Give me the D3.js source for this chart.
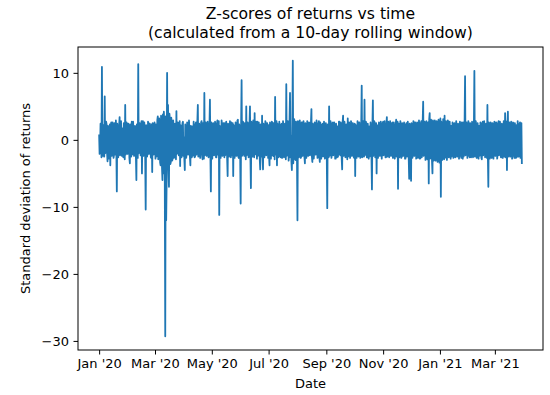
<!DOCTYPE html>
<html>
<head>
<meta charset="UTF-8">
<title>Z-scores of returns</title>
<style>
  body { margin: 0; background: #fff; }
  svg { display: block; font-family: "DejaVu Sans", sans-serif; }
</style>
</head>
<body>
<svg width="550" height="395"></svg>
<script src="https://d3js.org/d3.v7.min.js"></script>
<script>
// twice-daily z-scores, first value on 2020-01-01 00:00
const startDate = "2020-01-01";
// 00:00 readings
const zMidnight = [
  0.8, -1.6, 1.9, 10.9, -2.4, 1.2, 6.5, -1.9, 2.3, -3.2, 1.4, -0.7, -3.8, 2.6, -1.1, 0.5, -2.2, 1.8, 2.9, -7.7,
  1.3, -0.9, 3.4, -2.1, 0.6, 1.7, -2.6, 0.2, 5.2, -1.4, 2.2, -0.8, 1.5, -3.5, 0.9, 2.7, -1.8, 0.3, -2.3, 1.6,
  -6.0, 1.1, 11.3, -1.7, 2.4, -0.5, -5.0, 2.8, -1.2, 0.7, -10.4, 1.9, -2.0, 2.5, -0.4, 1.3, -2.7, -4.8, 2.1, -1.5,
  0.6, 2.3, -1.9, 3.5, -2.4, 1.0, -3.8, 2.0, -6.0, -5.0, 2.6, -29.3, -12.0, 10.0, 5.2, -7.0, 3.1, -3.3, 2.4, -2.8,
  1.7, -2.2, 0.9, 4.3, -1.6, 2.5, -0.3, -3.9, 1.8, -1.0, 2.7, 0.4, -4.5, 1.2, -2.0, 2.2, -0.8, 1.5, -3.8, 0.7,
  2.0, -1.7, 1.1, -2.5, 2.6, -0.6, 5.2, -2.1, 1.4, -1.2, 2.8, -2.9, 0.5, 7.0, -1.8, 2.1, -0.9, 1.6, -2.3, 6.0,
  -7.7, 1.3, -1.4, 2.4, -0.2, 1.9, -2.6, 2.9, -1.1, -11.2, 1.7, -0.5, 2.2, -2.0, 0.8, 2.5, -1.6, 1.0, -5.4, 2.3,
  -1.3, 0.4, 2.6, -2.2, -5.4, 1.5, -0.7, 2.1, -1.9, 3.0, -2.7, 1.2, -9.5, 8.9, -1.5, 2.4, -2.4, 0.9, 5.0, -1.0,
  1.8, -2.5, 5.0, -7.2, 2.3, -0.6, 1.4, 4.0, -2.1, 0.8, 2.7, -1.7, 1.1, -4.4, 2.0, 3.6, -4.4, 1.6, -1.3, 2.5,
  -2.0, 0.3, 2.2, -3.8, 1.3, -1.1, 2.6, -2.4, 0.9, 6.4, -0.8, -3.8, 2.1, -1.5, 1.7, -2.6, 2.4, -0.4, 1.0, -2.1,
  1.4, 8.3, -1.9, 2.7, -2.3, 7.0, 0.6, -4.5, 11.8, -1.6, 2.3, -3.0, 1.5, -12.0, 2.0, -0.9, 1.2, -2.5, 2.6, -1.2,
  0.7, -3.5, 2.1, -1.4, 1.8, -2.2, 2.5, -0.5, 4.6, -3.3, 1.6, -1.8, 2.3, -0.7, 1.1, -2.6, 2.8, -3.3, 0.9, -1.0,
  2.4, -1.9, 1.3, -2.4, 0.4, -10.2, 2.2, 5.0, -1.5, 1.9, -2.1, 2.6, -0.8, 1.5, -2.8, 0.6, 2.0, -1.3, 2.7, -2.3,
  1.2, -4.4, 3.6, -1.0, 1.9, -2.5, 0.8, 3.2, -2.0, 1.4, -1.6, 2.5, -0.6, 1.7, -2.7, -5.4, 2.1, -1.2, 2.4, -2.1,
  0.5, -1.8, 8.1, -2.2, 1.6, 6.0, -1.4, 2.3, -2.6, 0.9, 2.0, -1.7, 1.3, -7.4, 5.9, -1.1, 2.5, -2.4, -5.0, 1.8,
  -0.9, 2.2, -2.3, 1.5, -1.5, 2.7, -0.3, 1.0, -2.6, 3.4, -1.9, 2.1, -0.7, 1.4, -2.2, 2.6, -1.3, 0.6, -2.0, 3.0,
  -1.6, -7.3, 2.4, -1.0, 1.7, -2.5, 2.0, -0.4, 1.2, -2.8, 2.5, -1.4, 0.8, -5.8, 2.2, -6.1, 1.9, -1.7, 2.6, -2.1,
  1.0, -2.4, 2.3, -0.9, 1.6, -2.7, 2.8, -1.5, 5.7, -2.0, 1.4, -1.1, 2.5, -2.6, -6.5, 4.0, -1.8, 2.2, -5.0, 1.3,
  -2.3, 2.0, -1.0, 2.6, -2.8, 1.1, -1.6, -8.5, 2.4, -0.8, 1.7, 3.6, -2.2, 1.3, -1.4, 2.7, -2.5, 0.7, 2.1, -1.9,
  1.5, -2.1, 2.4, -0.6, 1.0, -2.4, 2.2, -1.3, 1.8, -2.7, 0.5, 2.6, -1.7, 9.5, -2.0, 1.4, -1.0, 2.3, -2.6, 1.1,
  -1.5, 2.5, -2.2, 10.3, -1.2, 1.9, -2.4, 0.8, 2.1, -1.8, 1.5, -2.9, 2.7, -0.7, 1.2, -2.3, 2.0, 5.2, -7.0, 1.7,
  -1.4, 2.3, -2.5, 1.0, -0.6, 2.6, -2.1, 1.5, -1.9, 2.8, -0.9, 1.3, -2.6, 2.1, -1.3, 0.7, 4.0, -2.2, -4.5, 4.2,
  -1.7, 2.0, -2.4, 1.6, -1.0, 2.5, -2.7, 0.9, 2.2, -1.6, 1.4, -2.3, 2.6, -1.1, -3.6
];
// 12:00 readings
const zNoon = [
  -2.1, 2.4, -2.6, -1.8, 2.2, -2.5, -2.0, 2.7, -1.9, 2.1, -2.8, 2.3, 2.0, -2.4, 2.6, -2.7, 2.5, -2.2, -1.7, 2.4,
  -2.6, 2.2, -2.3, 2.8, -2.4, -2.0, 2.5, -2.9, -2.2, 2.6, -2.1, 2.4, -2.7, 2.3, -2.5, -2.2, 2.7, -2.4, 2.1, -2.6,
  2.3, -2.7, -2.0, 2.5, -2.3, 2.8, 2.1, -2.4, 2.6, -2.9, 2.2, -2.5, 2.7, -2.1, 2.4, -2.6, 2.3, 2.5, -2.2, 2.6,
  -2.8, -2.5, 3.0, -2.9, 3.2, -3.4, 3.6, -4.1, 3.8, 4.2, -5.5, 3.5, -6.2, -4.0, -4.5, 3.9, -3.6, 3.3, -3.1, 2.9,
  -2.7, 2.4, -2.9, -2.1, 2.6, -2.3, 2.8, 2.2, -2.6, 2.5, -2.4, -2.8, 2.3, -2.7, 2.6, -2.2, 2.9, -2.5, 2.1, -2.6,
  -2.4, 2.7, -2.6, 2.3, -2.2, 2.8, -2.5, 2.4, -2.7, 2.6, -2.1, 2.5, -2.8, -2.3, 2.6, -2.4, 2.7, -2.6, 2.2, -2.5,
  2.6, -2.8, 2.5, -2.3, 2.7, -2.6, 2.4, -2.2, 2.8, 2.1, -2.7, 2.9, -2.4, 2.5, -2.6, -2.3, 2.7, -2.8, 2.4, -2.5,
  2.8, -2.6, -2.3, 2.5, 2.2, -2.7, 2.6, -2.4, 2.9, -2.5, 2.3, -2.8, 2.6, -2.4, 2.7, -2.2, 2.5, -2.9, -2.3, 2.6,
  -2.6, 2.4, -2.8, 2.7, -2.5, 2.9, -2.6, -2.2, 2.7, -2.8, -2.4, 2.6, -2.9, 2.3, -2.5, -2.7, 2.4, -2.6, 2.8, -2.3,
  2.5, -2.7, -2.4, 2.6, -2.8, 2.7, -2.3, 2.5, -2.9, -2.2, 2.8, 2.4, -2.6, 2.7, -2.5, 2.3, -2.7, 2.8, -2.6, 2.4,
  -2.9, -2.4, 2.8, -3.1, 3.2, -2.6, -3.3, 3.0, -3.5, 3.1, -2.9, 2.7, -3.2, 2.8, -2.6, 2.9, -2.7, 2.6, -2.4, 2.8,
  -2.6, 2.5, -2.7, 2.8, -2.4, 2.6, -2.3, 2.7, -2.5, 2.4, -2.8, 2.6, -2.2, 2.9, -2.7, 2.4, -2.5, 2.6, -2.8, 2.3,
  -2.5, 2.7, -2.8, 2.5, -2.9, 2.3, -2.6, -2.4, 2.8, -2.7, 2.5, -2.3, 2.6, -2.8, 2.4, -2.6, -2.5, 2.7, -2.2, 2.6,
  -2.8, 2.6, -2.4, 2.7, -2.6, 2.3, -2.9, -2.5, 2.6, -2.7, 2.8, -2.4, 2.5, -2.6, 2.4, 2.2, -2.7, 2.8, -2.5, 2.6,
  -2.7, 2.5, -2.6, 2.8, -2.5, -2.3, 2.7, -2.6, 2.4, -2.8, -2.5, 2.6, -2.7, 2.3, -2.4, 2.8, -2.6, 2.5, 2.2, -2.7,
  2.6, -2.4, 2.7, -2.8, 2.5, -2.3, 2.8, -2.6, 2.4, -2.5, 2.7, -2.6, 2.8, -2.4, 2.5, -2.7, 2.6, -2.8, 2.3, -2.5,
  2.7, 2.4, -2.6, 2.8, -2.7, 2.5, -2.4, 2.6, -2.8, 2.3, -2.5, 2.7, -2.9, 2.4, -2.6, 2.5, -2.7, 2.8, -2.4, 2.6,
  -2.8, 2.6, -2.7, 2.9, -2.8, 2.5, -2.6, 2.9, -2.4, 2.7, -3.0, 2.8, -2.9, 2.6, 3.1, -2.8, 3.0, -3.2, 2.9, -3.1,
  2.9, -3.1, 2.8, -3.3, 3.0, -3.4, 3.2, 2.7, -3.0, 3.1, -2.9, -2.7, 2.8, -3.0, 2.9, -2.6, 2.7, -2.8, -2.5, 2.6,
  -2.7, 2.5, -2.6, 2.8, -2.5, 2.4, -2.8, 2.7, -2.4, 2.6, -2.8, -2.5, 2.7, -2.3, 2.6, -2.7, 2.8, -2.4, 2.5, -2.6,
  2.7, -2.6, 2.4, -2.5, 2.8, -2.7, 2.5, -2.8, -2.4, 2.6, -2.7, 2.5, -2.3, 2.8, -2.6, 2.4, -2.7, -2.5, 2.6, -2.8,
  2.6, -2.7, 2.5, -2.8, 2.7, -2.4, 2.6, -2.8, 2.5, -2.3, 2.7, -2.6, 2.4, -2.7, 2.8, -2.5, -2.6, 2.7, 2.4, -2.5,
  2.6, -2.5, 2.7, -2.8, 2.6, -2.4, 2.5, -2.7, -2.6, 2.8, -2.5, 2.4, -2.7, 2.5
];
const yTicks = [10, 0, -10, -20, -30];
const xTicks = ["2020-01-01", "2020-03-01", "2020-05-01", "2020-07-01", "2020-09-01",
                "2020-11-01", "2021-01-01", "2021-03-01"];
const titleLines = ["Z-scores of returns vs time", "(calculated from a 10-day rolling window)"];

const parse = d3.utcParse("%Y-%m-%d");
const t0 = parse(startDate);
const data = [];
zMidnight.forEach((v, i) => {
    const day = d3.utcDay.offset(t0, i);
    data.push({ date: day, value: v });
    if (i < zNoon.length) data.push({ date: d3.utcHour.offset(day, 12), value: zNoon[i] });
});

const svg = d3.select("svg");
const margin = { top: 47, right: 7, bottom: 45, left: 78 };
const width = 550 - margin.left - margin.right;
const height = 395 - margin.top - margin.bottom;
const g = svg.append("g").attr("transform", `translate(${margin.left},${margin.top})`);

// matplotlib style 5% padding
const xExt = d3.extent(data, d => d.date);
const xPad = (xExt[1] - xExt[0]) * 0.05;
const x = d3.scaleUtc()
    .domain([new Date(+xExt[0] - xPad), new Date(+xExt[1] + xPad)])
    .range([0, width]);
const yExt = d3.extent(data, d => d.value);
const yPad = (yExt[1] - yExt[0]) * 0.05;
const y = d3.scaleLinear()
    .domain([yExt[0] - yPad, yExt[1] + yPad])
    .range([height, 0]);

const line = d3.line().x(d => x(d.date)).y(d => y(d.value));
g.append("path")
    .datum(data)
    .attr("fill", "none")
    .attr("stroke", "#1f77b4")
    .attr("stroke-width", 1.8)
    .attr("stroke-linejoin", "round")
    .attr("d", line);

const fmt = d3.utcFormat("%b '%y");
const xAxis = g.append("g")
    .attr("transform", `translate(0,${height})`)
    .call(d3.axisBottom(x).tickValues(xTicks.map(parse)).tickFormat(fmt)
        .tickSizeInner(4.5).tickSizeOuter(0).tickPadding(4.5));
const yAxis = g.append("g")
    .call(d3.axisLeft(y).tickValues(yTicks).tickFormat(d => d < 0 ? "\u2212" + Math.abs(d) : d)
        .tickSizeInner(4.5).tickSizeOuter(0).tickPadding(4.5));

[xAxis, yAxis].forEach(a => {
    a.select(".domain").remove();
    a.selectAll("text").attr("font-size", 13).attr("fill", "#000").attr("font-family", "DejaVu Sans");
    a.selectAll("line").attr("stroke", "#000").attr("stroke-width", 1);
});

g.append("rect")
    .attr("width", width).attr("height", height)
    .attr("fill", "none").attr("stroke", "#000").attr("stroke-width", 1);

svg.append("text")
    .attr("x", margin.left + width / 2).attr("y", 19)
    .attr("text-anchor", "middle").attr("font-size", 15.6)
    .selectAll("tspan").data(titleLines).enter().append("tspan")
    .attr("x", margin.left + width / 2)
    .attr("dy", (d, i) => i === 0 ? 0 : 19)
    .text(d => d);

svg.append("text")
    .attr("x", margin.left + width / 2).attr("y", 388)
    .attr("text-anchor", "middle").attr("font-size", 13)
    .text("Date");

svg.append("text")
    .attr("transform", `translate(30,${margin.top + height / 2}) rotate(-90)`)
    .attr("text-anchor", "middle").attr("font-size", 13)
    .text("Standard deviation of returns");
</script>
</body>
</html>
